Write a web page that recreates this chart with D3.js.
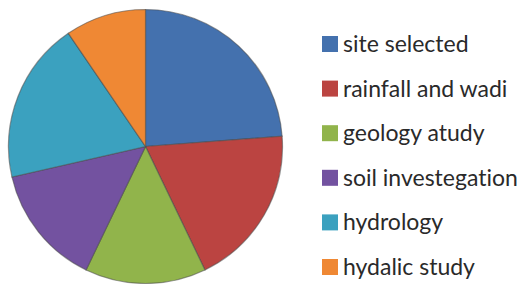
<!DOCTYPE html>
<html><head><meta charset="utf-8">
<script src="https://cdn.jsdelivr.net/npm/d3@7"></script>
<style>html,body{margin:0;padding:0;background:#fff;}svg{display:block;}text{font-variant-ligatures:none;font-feature-settings:"liga" 0,"clig" 0;}</style>
</head><body>
<script>
const categories = ["site selected","rainfall and wadi","geology atudy","soil investegation","hydrology","hydalic study"];
const values = [25,20,15,15,20,10];
const colors = ["#4471ae","#bb4441","#91b44b","#7352a0","#3ba1bf","#ef8834"];

const W=520,H=284;
const svg=d3.select("body").append("svg").attr("width",W).attr("height",H);
const cx=145.5, cy=146.5, r=137;
const pie=d3.pie().sort(null).value(d=>d)(values);
const arc=d3.arc().innerRadius(0).outerRadius(r);
const color=d3.scaleOrdinal().domain(categories).range(colors);
svg.append("g").attr("transform",`translate(${cx},${cy})`)
  .selectAll("path").data(pie).join("path")
  .attr("d",arc).attr("fill",(d,i)=>color(categories[i]))
  .attr("stroke","#4a4a4a").attr("stroke-opacity",0.55).attr("stroke-width",1.2);

const leg=d3.scalePoint().domain(categories).range([44,267]);
const lg=svg.append("g");
const rows=lg.selectAll("g").data(categories).join("g").attr("transform",d=>`translate(322,${leg(d)})`);
rows.append("rect").attr("x",0).attr("y",-8).attr("width",16).attr("height",16).attr("fill",d=>color(d));
rows.append("text").attr("x",21).attr("y",0).attr("dy","0.35em")
  .attr("font-family","Lato, 'Open Sans', sans-serif").attr("font-size",23).attr("fill","#2a2a2a").text(d=>d);
</script>
</body></html>
